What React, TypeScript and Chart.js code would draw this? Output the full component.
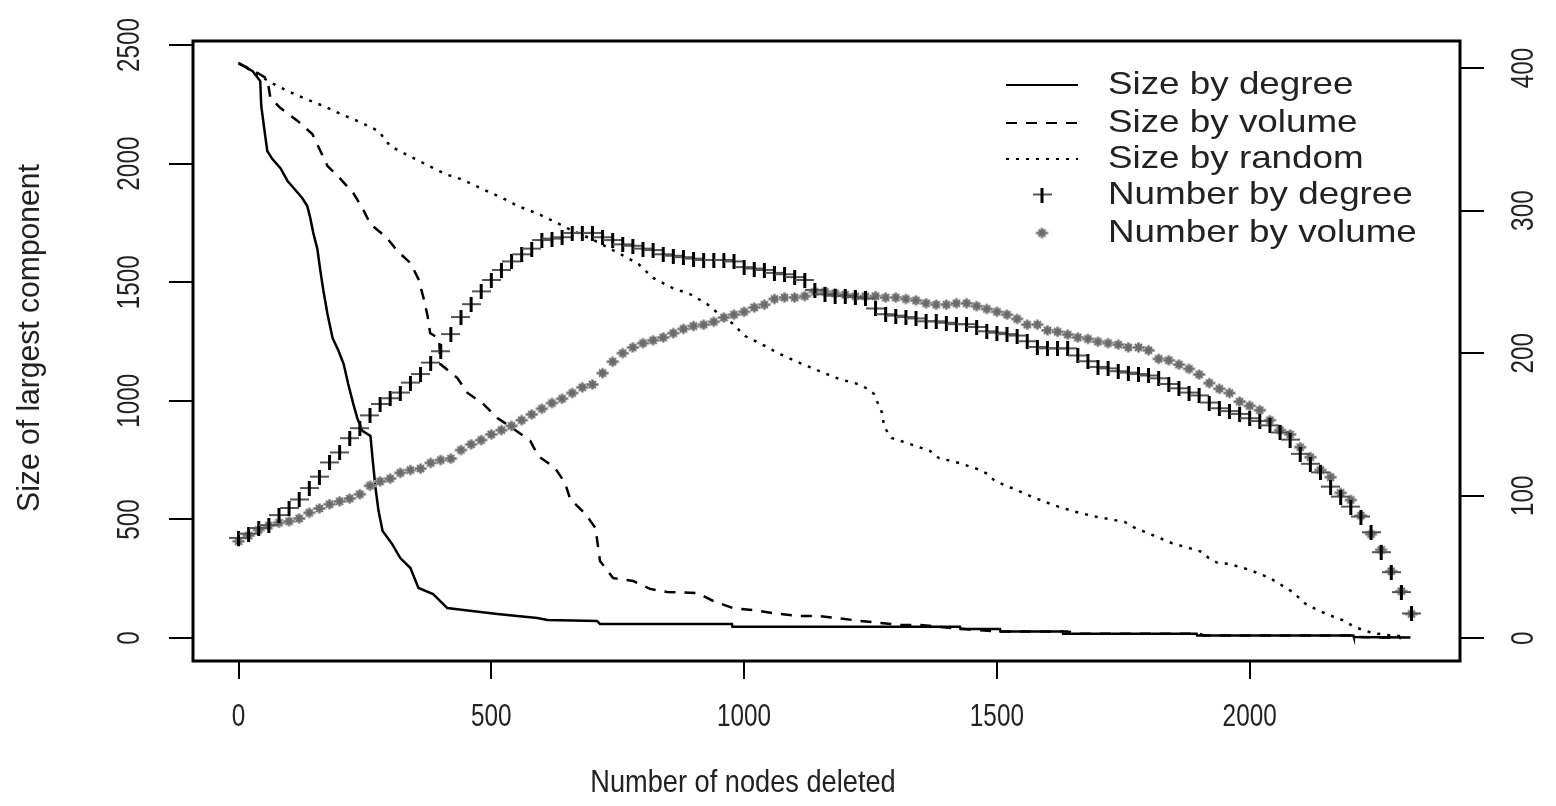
import React, { useEffect, useRef } from 'react';
import { Chart, registerables } from 'chart.js';
Chart.register(...registerables);

// ---------- data ----------
const xTicks = [0, 500, 1000, 1500, 2000];
const leftTicks = [0, 500, 1000, 1500, 2000, 2500];
const rightTicks = [0, 100, 200, 300, 400];
const legendLabels = ['Size by degree', 'Size by volume', 'Size by random', 'Number by degree', 'Number by volume'];

const sizeDegreeX = [0, 28, 43, 45, 51, 57, 67, 83, 97, 109, 126, 136, 142, 148, 156, 162, 168, 176, 186, 198, 208, 217, 227, 235, 245, 261, 265, 271, 277, 285, 304, 320, 340, 356, 385, 413, 445, 512, 591, 611, 709, 715, 976, 977, 1427, 1428, 1506, 1507, 1630, 1631, 1895, 1896, 2205, 2206, 2318];
const sizeDegreeY = [2424, 2390, 2348, 2243, 2146, 2053, 2019, 1981, 1927, 1897, 1855, 1821, 1771, 1707, 1640, 1547, 1463, 1366, 1265, 1210, 1155, 1071, 987, 927, 873, 852, 759, 632, 535, 451, 396, 337, 295, 211, 185, 126, 118, 101, 84, 76, 72, 59, 59, 47, 47, 38, 38, 27, 27, 18, 18, 11, 11, 4, 2];

const sizeVolumeX = [0, 38, 57, 63, 83, 117, 146, 162, 176, 202, 227, 245, 261, 294, 314, 340, 356, 366, 374, 379, 397, 399, 433, 453, 484, 512, 542, 577, 593, 626, 646, 656, 686, 706, 715, 741, 781, 814, 848, 907, 939, 978, 1018, 1057, 1105, 1144, 1184, 1229, 1308, 1348, 1420, 1506, 1640, 1660, 1900, 1910, 2200, 2210, 2300];
const sizeVolumeY = [2424, 2382, 2357, 2277, 2234, 2180, 2125, 2053, 1990, 1935, 1876, 1813, 1745, 1686, 1632, 1581, 1513, 1433, 1358, 1286, 1261, 1155, 1096, 1033, 987, 927, 885, 831, 767, 717, 653, 586, 523, 464, 325, 253, 240, 207, 194, 190, 156, 126, 118, 105, 93, 93, 84, 72, 55, 55, 40, 27, 27, 18, 18, 11, 11, 4, 0];

const sizeRandomX = [0, 69, 89, 128, 168, 202, 241, 277, 300, 334, 370, 409, 445, 482, 522, 553, 593, 630, 650, 700, 755, 791, 820, 858, 893, 927, 943, 976, 1002, 1038, 1071, 1111, 1148, 1188, 1225, 1245, 1257, 1265, 1273, 1277, 1292, 1328, 1368, 1385, 1425, 1462, 1482, 1496, 1534, 1571, 1611, 1650, 1690, 1733, 1753, 1769, 1808, 1846, 1887, 1905, 1919, 1937, 1960, 2000, 2040, 2059, 2085, 2113, 2152, 2188, 2207, 2243, 2287, 2310];
const sizeRandomY = [2424, 2336, 2315, 2277, 2243, 2209, 2175, 2137, 2074, 2036, 1998, 1956, 1931, 1893, 1855, 1821, 1788, 1750, 1728, 1680, 1619, 1577, 1518, 1476, 1450, 1408, 1379, 1328, 1273, 1235, 1197, 1159, 1126, 1092, 1071, 1050, 1029, 987, 949, 890, 843, 818, 788, 759, 738, 712, 691, 662, 628, 594, 561, 535, 514, 497, 489, 468, 434, 400, 375, 363, 337, 316, 312, 287, 253, 228, 194, 139, 101, 72, 46, 21, 8, 8];

const deletedSteps = [
  0, 20, 40, 60, 80, 100, 120, 140, 160, 180, 200, 220, 240, 260, 280, 300, 320, 340, 360, 380,
  400, 420, 440, 460, 480, 500, 520, 540, 560, 580, 600, 620, 640, 660, 680, 700, 720, 740, 760, 780,
  800, 820, 840, 860, 880, 900, 920, 940, 960, 980, 1000, 1020, 1040, 1060, 1080, 1100, 1120, 1140, 1160, 1180,
  1200, 1220, 1240, 1260, 1280, 1300, 1320, 1340, 1360, 1380, 1400, 1420, 1440, 1460, 1480, 1500, 1520, 1540, 1560, 1580,
  1600, 1620, 1640, 1660, 1680, 1700, 1720, 1740, 1760, 1780, 1800, 1820, 1840, 1860, 1880, 1900, 1920, 1940, 1960, 1980,
  2000, 2020, 2040, 2060, 2080, 2100, 2120, 2140, 2160, 2180, 2200, 2220, 2240, 2260, 2280, 2300, 2320];

const numberByDegree = [
  70, 73, 77, 79, 86, 91, 97, 105, 113, 123,
  130, 140, 147, 156, 164, 168, 172, 179, 185, 193,
  201, 213, 225, 234, 243, 251, 258, 264, 269, 273,
  279, 280, 281, 284, 284, 284, 281, 279, 276, 275,
  273, 272, 269, 268, 267, 266, 265, 265, 265, 264,
  260, 259, 258, 256, 255, 253, 251, 244, 241, 240,
  240, 239, 238, 231, 227, 226, 225, 224, 222, 222,
  221, 220, 220, 218, 215, 214, 213, 212, 208, 204,
  203, 203, 203, 198, 194, 190, 189, 187, 186, 185,
  184, 182, 178, 175, 172, 170, 165, 161, 159, 157,
  154, 152, 149, 144, 139, 129, 122, 116, 106, 99,
  92, 85, 74, 60, 46, 32, 17];

const numberByVolume = [
  68, 72, 76, 79, 81, 82, 84, 88, 91, 94,
  96, 98, 101, 107, 110, 112, 116, 118, 119, 123,
  125, 126, 132, 136, 139, 143, 146, 149, 153, 157,
  161, 165, 168, 172, 176, 178, 186, 194, 200, 204,
  207, 209, 211, 214, 217, 219, 220, 222, 225, 227,
  229, 232, 234, 238, 239, 239, 240, 243, 243, 242,
  241, 240, 240, 240, 239, 239, 238, 237, 235, 234,
  234, 235, 235, 233, 231, 229, 227, 224, 220, 220,
  216, 215, 213, 211, 210, 208, 207, 206, 204, 204,
  202, 196, 195, 192, 189, 185, 179, 175, 172, 166,
  163, 160, 153, 146, 143, 134, 127, 118, 113, 102,
  97, 86, 73, 62, 47, 33, 17];

// ---------- styling helpers ----------
const FONT = '"Liberation Sans", Arial, sans-serif';
const TEXT = '#222';

function pairs(xs: number[], ys: number[]) {
  return xs.map((x, i) => ({ x, y: ys[i] }));
}

function makePlus(): HTMLCanvasElement {
  const c = document.createElement('canvas');
  c.width = 19;
  c.height = 15;
  const g = c.getContext('2d')!;
  g.fillStyle = '#555';
  g.fillRect(0, 6, 19, 2);
  g.fillStyle = '#000';
  g.fillRect(8, 0, 3, 15);
  return c;
}

function makeStar(): HTMLCanvasElement {
  const c = document.createElement('canvas');
  c.width = 15;
  c.height = 13;
  const g = c.getContext('2d')!;
  g.strokeStyle = '#bbb';
  g.lineWidth = 3;
  g.beginPath();
  g.moveTo(1, 6.5); g.lineTo(14, 6.5);
  g.moveTo(7.5, 1); g.lineTo(7.5, 12);
  g.stroke();
  g.strokeStyle = '#6a6a6a';
  g.lineWidth = 2;
  g.beginPath();
  g.moveTo(2, 6.5); g.lineTo(13, 6.5);
  g.moveTo(7.5, 2); g.lineTo(7.5, 11);
  g.moveTo(4, 3); g.lineTo(11, 10);
  g.moveTo(11, 3); g.lineTo(4, 10);
  g.stroke();
  return c;
}

function drawText(ctx: CanvasRenderingContext2D, text: string, x: number, y: number, size: number, sx: number, rot = 0, align: CanvasTextAlign = 'center') {
  ctx.save();
  ctx.translate(x, y);
  ctx.rotate(rot);
  ctx.scale(sx, 1);
  ctx.font = `${size}px ${FONT}`;
  ctx.fillStyle = TEXT;
  ctx.textAlign = align;
  ctx.textBaseline = 'middle';
  ctx.fillText(text, 0, 0);
  ctx.restore();
}

export default function App() {
  const ref = useRef<HTMLCanvasElement | null>(null);

  useEffect(() => {
    document.body.style.margin = '0';
    const canvas = ref.current!;
    const plus = makePlus();
    const star = makeStar();
    const dashes: number[][] = [[], [11, 9], [3, 7]];

    const frame = {
      id: 'rframe',
      afterDraw(chart: any) {
        const ctx: CanvasRenderingContext2D = chart.ctx;
        const { left, right, top, bottom } = chart.chartArea;
        const xs = chart.scales.x;
        const yl = chart.scales.y;
        const yr = chart.scales.y1;
        ctx.save();
        ctx.strokeStyle = '#000';
        ctx.lineWidth = 3;
        ctx.setLineDash([]);
        ctx.strokeRect(left, top, right - left, bottom - top);
        ctx.lineWidth = 2;
        ctx.beginPath();
        xTicks.forEach((v) => {
          const px = Math.round(xs.getPixelForValue(v));
          ctx.moveTo(px, bottom); ctx.lineTo(px, bottom + 18);
        });
        leftTicks.forEach((v) => {
          const py = Math.round(yl.getPixelForValue(v));
          ctx.moveTo(left - 24, py); ctx.lineTo(left, py);
        });
        rightTicks.forEach((v) => {
          const py = Math.round(yr.getPixelForValue(v));
          ctx.moveTo(right, py); ctx.lineTo(right + 24, py);
        });
        ctx.stroke();

        xTicks.forEach((v) => drawText(ctx, String(v), xs.getPixelForValue(v), 717, 32, 0.76));
        leftTicks.forEach((v) => drawText(ctx, String(v), 130, yl.getPixelForValue(v), 32, 0.76, -Math.PI / 2));
        rightTicks.forEach((v) => drawText(ctx, String(v), 1524, yr.getPixelForValue(v), 32, 0.76, -Math.PI / 2));

        drawText(ctx, 'Number of nodes deleted', 743, 783, 32, 0.85);
        drawText(ctx, 'Size of largest component', 30, 338, 32, 0.94, -Math.PI / 2);

        // legend
        const rows = [85, 123, 159, 195, 233];
        ctx.strokeStyle = '#000';
        ctx.lineWidth = 2;
        for (let i = 0; i < 3; i++) {
          ctx.setLineDash(dashes[i]);
          ctx.beginPath();
          ctx.moveTo(1006, rows[i]);
          ctx.lineTo(1078, rows[i]);
          ctx.stroke();
        }
        ctx.setLineDash([]);
        ctx.drawImage(plus, 1042 - plus.width / 2, rows[3] - plus.height / 2);
        ctx.drawImage(star, 1042 - star.width / 2, rows[4] - star.height / 2);
        legendLabels.forEach((t, i) => drawText(ctx, t, 1108, rows[i], 32, 1.15, 0, 'left'));
        ctx.restore();
      },
    };

    const chart = new Chart(canvas, {
      type: 'scatter',
      data: {
        datasets: [
          {
            label: legendLabels[3],
            data: pairs(deletedSteps, numberByDegree),
            yAxisID: 'y1',
            showLine: false,
            pointStyle: plus as any,
            pointRadius: 6,
            borderColor: '#000',
            backgroundColor: '#000',
          },
          {
            label: legendLabels[4],
            data: pairs(deletedSteps, numberByVolume),
            yAxisID: 'y1',
            showLine: false,
            pointStyle: star as any,
            pointRadius: 6,
            borderColor: '#777',
            backgroundColor: '#777',
          },
          {
            label: legendLabels[0],
            data: pairs(sizeDegreeX, sizeDegreeY),
            yAxisID: 'y',
            showLine: true,
            pointRadius: 0,
            borderColor: '#000',
            borderWidth: 2.5,
            tension: 0,
          },
          {
            label: legendLabels[1],
            data: pairs(sizeVolumeX, sizeVolumeY),
            yAxisID: 'y',
            showLine: true,
            pointRadius: 0,
            borderColor: '#000',
            borderWidth: 2.5,
            borderDash: dashes[1],
            tension: 0,
          },
          {
            label: legendLabels[2],
            data: pairs(sizeRandomX, sizeRandomY),
            yAxisID: 'y',
            showLine: true,
            pointRadius: 0,
            borderColor: '#000',
            borderWidth: 2.5,
            borderDash: dashes[2],
            tension: 0,
          },
        ],
      },
      options: {
        responsive: false,
        animation: false,
        events: [],
        layout: { padding: { left: 193, top: 41, right: 96, bottom: 145 } },
        plugins: { legend: { display: false }, tooltip: { enabled: false } },
        scales: {
          x: { type: 'linear', min: -90, max: 2416, display: false },
          y: { type: 'linear', min: -97, max: 2517, display: false },
          y1: { type: 'linear', position: 'right', min: -16, max: 419, display: false },
        },
      },
      plugins: [frame],
    });
    return () => chart.destroy();
  }, []);

  return <canvas ref={ref} width={1556} height={806} style={{ display: 'block' }} />;
}
